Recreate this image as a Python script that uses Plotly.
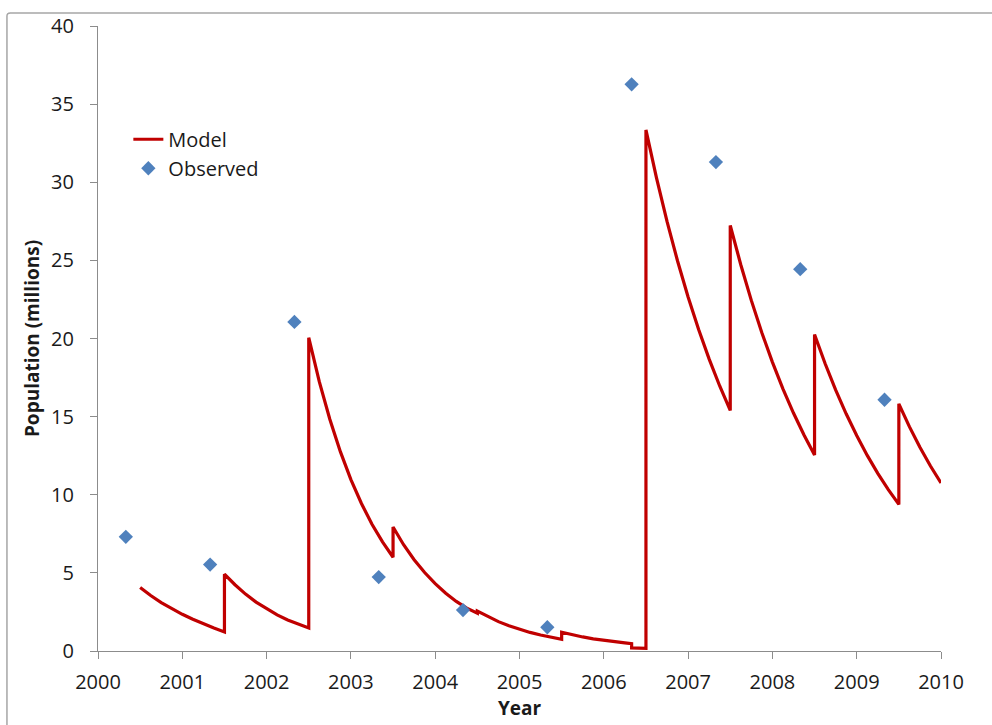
import plotly.graph_objects as go

# Observed data
obs_year = [2000.33, 2001.33, 2002.33, 2003.33, 2004.33, 2005.33, 2006.33, 2007.33, 2008.33, 2009.33]
obs_pop = [7.31, 5.53, 21.06, 4.73, 2.62, 1.52, 36.27, 31.29, 24.44, 16.08]

# Model curve (jumps at mid-year)
model_year = [
    2000.5, 2000.625, 2000.75, 2000.875, 2001.0, 2001.125, 2001.25, 2001.375, 2001.5,
    2001.5, 2001.625, 2001.75, 2001.875, 2002.0, 2002.125, 2002.25, 2002.375, 2002.5,
    2002.5, 2002.625, 2002.75, 2002.875, 2003.0, 2003.125, 2003.25, 2003.375, 2003.5,
    2003.5, 2003.625, 2003.75, 2003.875, 2004.0, 2004.125, 2004.25, 2004.375, 2004.5,
    2004.5, 2004.625, 2004.75, 2004.875, 2005.0, 2005.125, 2005.25, 2005.375, 2005.5,
    2005.5, 2005.625, 2005.75, 2005.875, 2006.0, 2006.125, 2006.25, 2006.33, 2006.33, 2006.5,
    2006.5, 2006.625, 2006.75, 2006.875, 2007.0, 2007.125, 2007.25, 2007.375, 2007.5,
    2007.5, 2007.625, 2007.75, 2007.875, 2008.0, 2008.125, 2008.25, 2008.375, 2008.5,
    2008.5, 2008.625, 2008.75, 2008.875, 2009.0, 2009.125, 2009.25, 2009.375, 2009.5,
    2009.5, 2009.625, 2009.75, 2009.875, 2010.0,
]
model_pop = [
    4.07, 3.55, 3.10, 2.70, 2.35, 2.03, 1.74, 1.47, 1.22,
    4.92, 4.24, 3.64, 3.13, 2.69, 2.31, 1.98, 1.70, 1.47,
    20.05, 17.24, 14.83, 12.76, 10.97, 9.44, 8.11, 6.98, 6.00,
    7.94, 6.80, 5.84, 5.02, 4.31, 3.70, 3.17, 2.74, 2.42,
    2.55, 2.19, 1.88, 1.61, 1.38, 1.19, 1.02, 0.87, 0.75,
    1.20, 1.04, 0.90, 0.78, 0.68, 0.59, 0.52, 0.47, 0.20, 0.17,
    33.35, 30.28, 27.49, 24.96, 22.66, 20.57, 18.68, 16.96, 15.40,
    27.23, 24.72, 22.44, 20.37, 18.49, 16.78, 15.23, 13.82, 12.55,
    20.26, 18.40, 16.71, 15.18, 13.79, 12.52, 11.37, 10.33, 9.38,
    15.82, 14.36, 13.04, 11.84, 10.75,
]

x_ticks = [2000, 2001, 2002, 2003, 2004, 2005, 2006, 2007, 2008, 2009, 2010]
y_ticks = [0, 5, 10, 15, 20, 25, 30, 35, 40]

FONT = "Open Sans"
TEXT_COLOR = "#1a1a1a"
AXIS_COLOR = "#8C8C8C"

fig = go.Figure()
fig.add_trace(go.Scatter(
    x=model_year, y=model_pop, mode="lines", name="Model",
    line=dict(color="#C00000", width=3.2),
))
fig.add_trace(go.Scatter(
    x=obs_year, y=obs_pop, mode="markers", name="Observed",
    marker=dict(symbol="diamond", size=11, color="#4F81BD"),
))

fig.update_layout(
    width=992, height=725,
    margin=dict(l=98, r=51, t=20, b=72),
    paper_bgcolor="white", plot_bgcolor="white",
    font=dict(family=FONT, size=20, color=TEXT_COLOR),
    showlegend=True,
    legend=dict(
        x=0.036, y=0.85, xanchor="left", yanchor="top",
        bgcolor="rgba(0,0,0,0)", font=dict(family=FONT, size=20, color=TEXT_COLOR),
        itemwidth=30, tracegroupgap=0,
    ),
    xaxis=dict(
        range=[2000, 2010], tickvals=x_ticks, ticktext=[str(v) for v in x_ticks],
        showgrid=False, zeroline=False, showline=True, linecolor=AXIS_COLOR, linewidth=1.3,
        ticks="outside", ticklen=7, tickcolor=AXIS_COLOR, tickwidth=1.3,
        ticklabelstandoff=6,
        title=dict(text="<b>Year</b>", font=dict(family=FONT, size=19, color=TEXT_COLOR), standoff=5),
    ),
    yaxis=dict(
        range=[0, 40], tickvals=y_ticks, ticktext=[str(v) for v in y_ticks],
        showgrid=False, zeroline=False, showline=True, linecolor=AXIS_COLOR, linewidth=1.3,
        ticks="outside", ticklen=7, tickcolor=AXIS_COLOR, tickwidth=1.3,
        ticklabelstandoff=12,
        title=dict(text="<b>Population (millions)</b>", font=dict(family=FONT, size=19, color=TEXT_COLOR), standoff=6),
    ),
)

# Outer chart frame (left and top edges visible)
fig.add_shape(
    type="path", xref="paper", yref="paper",
    path="M -0.108,-0.2 L -0.108,1.016 Q -0.108,1.021 -0.104,1.021 L 1.2,1.021",
    line=dict(color="#A6A6A6", width=1.5),
)

fig.write_html(
    "out.html",
    config={"displayModeBar": False},
    post_script="document.body.style.margin='0';",
)
